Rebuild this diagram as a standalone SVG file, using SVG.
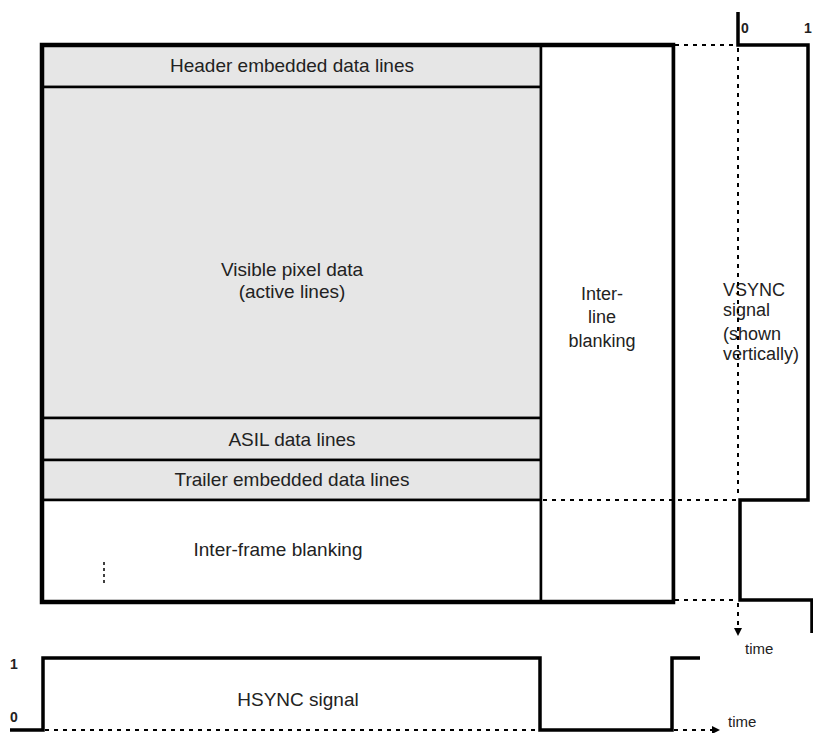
<svg xmlns="http://www.w3.org/2000/svg" width="813" height="733" viewBox="0 0 813 733">
<defs>
<style>
.t{font-family:"Liberation Sans",Arial,sans-serif;font-size:19px;fill:#222;text-anchor:middle}
.s{font-family:"Liberation Sans",Arial,sans-serif;font-size:18px;fill:#222}
.n{font-family:"Liberation Sans",Arial,sans-serif;font-size:14px;font-weight:bold;fill:#222}
.tm{font-family:"Liberation Sans",Arial,sans-serif;font-size:15px;fill:#222}
.g{fill:#e6e6e6;stroke:#000;stroke-width:2.5}
.w{fill:#fff;stroke:#000;stroke-width:2.5}
.sig{fill:none;stroke:#000;stroke-width:3.5}
.dot{fill:none;stroke:#000;stroke-width:2;stroke-dasharray:4 5}
</style>
<marker id="ah" viewBox="0 0 10 10" refX="5" refY="5" markerWidth="8" markerHeight="8" orient="auto" markerUnits="userSpaceOnUse">
<path d="M0,0 L10,5 L0,10 z" fill="#000"/>
</marker>
</defs>
<rect width="813" height="733" fill="#fff"/>
<g id="header"><rect class="g" x="43" y="46" width="498" height="41"/><text class="t" x="292" y="72">Header embedded data lines</text></g>
<g id="visible"><rect class="g" x="43" y="87" width="498" height="331"/><text class="t" x="292" y="276">Visible pixel data</text><text class="t" x="292" y="298">(active lines)</text></g>
<g id="asil"><rect class="g" x="43" y="418" width="498" height="42"/><text class="t" x="292" y="446">ASIL data lines</text></g>
<g id="trailer"><rect class="g" x="43" y="460" width="498" height="40"/><text class="t" x="292" y="486">Trailer embedded data lines</text></g>
<g id="interframe"><rect class="w" x="43" y="500" width="498" height="101"/><text class="t" x="278" y="556">Inter-frame blanking</text>
<line x1="104" y1="562" x2="104" y2="584" stroke="#000" stroke-width="1.5" stroke-dasharray="3 3"/></g>
<g id="interline"><rect class="w" x="541" y="46" width="132" height="555"/>
<text class="s" text-anchor="middle" x="602" y="300">Inter-</text><text class="s" text-anchor="middle" x="602" y="323">line</text><text class="s" text-anchor="middle" x="602" y="347">blanking</text></g>
<rect x="41.5" y="44.5" width="632" height="558" fill="none" stroke="#000" stroke-width="3.5"/>
<g id="vsync">
<path class="sig" d="M738,12 V45 H808 V500 H740 V600 H812 V633"/>
<text class="n" x="741" y="33">0</text><text class="n" x="804" y="33">1</text>
<text class="s" x="723" y="296">VSYNC</text><text class="s" x="723" y="316">signal</text><text class="s" x="723" y="340">(shown</text><text class="s" x="723" y="360">vertically)</text>
</g>
<g id="hsync">
<path class="sig" d="M10,730 H43 V658 H540 V730 H672 V658 H700"/>
<text class="n" x="10" y="669">1</text><text class="n" x="10" y="722">0</text>
<text class="t" x="298" y="706">HSYNC signal</text>
</g>
<g id="connectors">
<path class="dot" d="M675,45 H736"/>
<path class="dot" d="M738,48 V498"/>
<path class="dot" d="M543,500 H736"/>
<path class="dot" d="M675,600 H736"/>
<path class="dot" d="M738,603 V632" marker-end="url(#ah)"/>
<path class="dot" d="M45,730 H538"/>
<path class="dot" d="M674,730 H716" marker-end="url(#ah)"/>
<text class="tm" x="745" y="654">time</text>
<text class="tm" x="728" y="727">time</text>
</g>
</svg>
